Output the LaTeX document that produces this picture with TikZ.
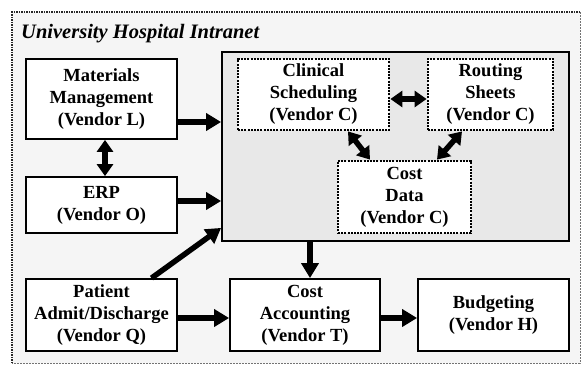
\documentclass[tikz,border=0pt]{standalone}
\usepackage{fontspec}
\setmainfont{Liberation Serif}
\usetikzlibrary{arrows.meta}

\begin{document}
\begin{tikzpicture}[x=1pt,y=1pt,yscale=-1,
	sysbox/.style={draw, line width=1.8pt, fill=white, align=center, inner sep=0pt,
		font=\bfseries\fontsize{18.5}{22}\selectfont},
	vendorbox/.style={sysbox, line width=2.8pt, dash pattern=on 2pt off 1.2pt},
	flow/.style={line width=5.5pt, -{Triangle[length=15pt,width=17pt]}},
	bothflow/.style={line width=5.5pt, {Triangle[length=12pt,width=16pt]}-{Triangle[length=12pt,width=16pt]}}]
		\useasboundingbox (0,0) rectangle (583,365);

		% The outer dotted frame of the intranet
		\fill[black!4] (12,12) rectangle (580,363);
		\draw[line width=0.8pt, dash pattern=on 2pt off 1pt, black!55] (580,12) -- (580,363) -- (12,363);
		\draw[line width=2pt, dash pattern=on 1.5pt off 1pt, black!85] (12,363) -- (12,12) -- (580,12);

		% The title in bold italic
		\node[anchor=base west, inner sep=0pt, font=\bfseries\itshape\fontsize{20.5}{24}\selectfont] (title) at (21,38) {University Hospital Intranet};

		% The grey box holding the Vendor C systems
		\node[draw, line width=1.8pt, fill=black!9, minimum width=347pt, minimum height=189pt, inner sep=0pt] (intranet) at (395.5,146.5) {};

		% The Vendor C systems (dotted boxes)
		\node[vendorbox, minimum width=151pt, minimum height=71pt] (clinsched) at (313.5,94.5) {Clinical\\Scheduling\\(Vendor C)};
		\node[vendorbox, minimum width=125pt, minimum height=71pt] (routing) at (490.5,94.5) {Routing\\Sheets\\(Vendor C)};
		\node[vendorbox, minimum width=133pt, minimum height=72pt] (costdata) at (404.5,197) {Cost\\Data\\(Vendor C)};

		% The systems on the left
		\node[sysbox, minimum width=151pt, minimum height=80pt] (matmgmt) at (101.5,99) {Materials\\Management\\(Vendor L)};
		\node[sysbox, minimum width=151pt, minimum height=56pt] (erp) at (101.5,205) {ERP\\(Vendor O)};
		\node[sysbox, minimum width=151pt, minimum height=72pt] (patient) at (101.5,315) {Patient\\Admit/Discharge\\(Vendor Q)};

		% The systems at the bottom
		\node[sysbox, minimum width=150pt, minimum height=72pt] (costacc) at (305,315) {Cost\\Accounting\\(Vendor T)};
		\node[sysbox, minimum width=151pt, minimum height=72pt] (budget) at (493.5,315) {Budgeting\\(Vendor H)};

		% Arrows into the grey box (y runs downwards, so shifts are flipped)
		\coordinate (mm-out) at ([yshift=23pt]matmgmt.east);
		\draw[flow] (mm-out) -- (mm-out -| intranet.west);
		\coordinate (erp-out) at ([yshift=-4pt]erp.east);
		\draw[flow] (erp-out) -- (erp-out -| intranet.west);
		\draw[flow] ([xshift=50pt]patient.north) -- ([yshift=-14pt]intranet.south west);

		% Two-way arrows
		\draw[bothflow] ([xshift=3.5pt]matmgmt.south) -- ([xshift=3.5pt]erp.north);
		\draw[bothflow] ([yshift=4.5pt]clinsched.east) -- ([yshift=4.5pt]routing.west);
		\draw[bothflow] ([xshift=34.5pt]clinsched.south) -- ([xshift=-34.5pt]costdata.north);
		\draw[bothflow] ([xshift=-28.5pt]routing.south) -- ([xshift=32.5pt]costdata.north);

		% Arrows along the bottom row
		\coordinate (ca-in) at ([xshift=5pt]costacc.north);
		\draw[flow] (ca-in |- intranet.south) -- (ca-in);
		\draw[flow] ([yshift=3pt]patient.east) -- ([yshift=3pt]costacc.west);
		\draw[flow] ([yshift=3pt]costacc.east) -- ([yshift=3pt]budget.west);
\end{tikzpicture}
\end{document}
